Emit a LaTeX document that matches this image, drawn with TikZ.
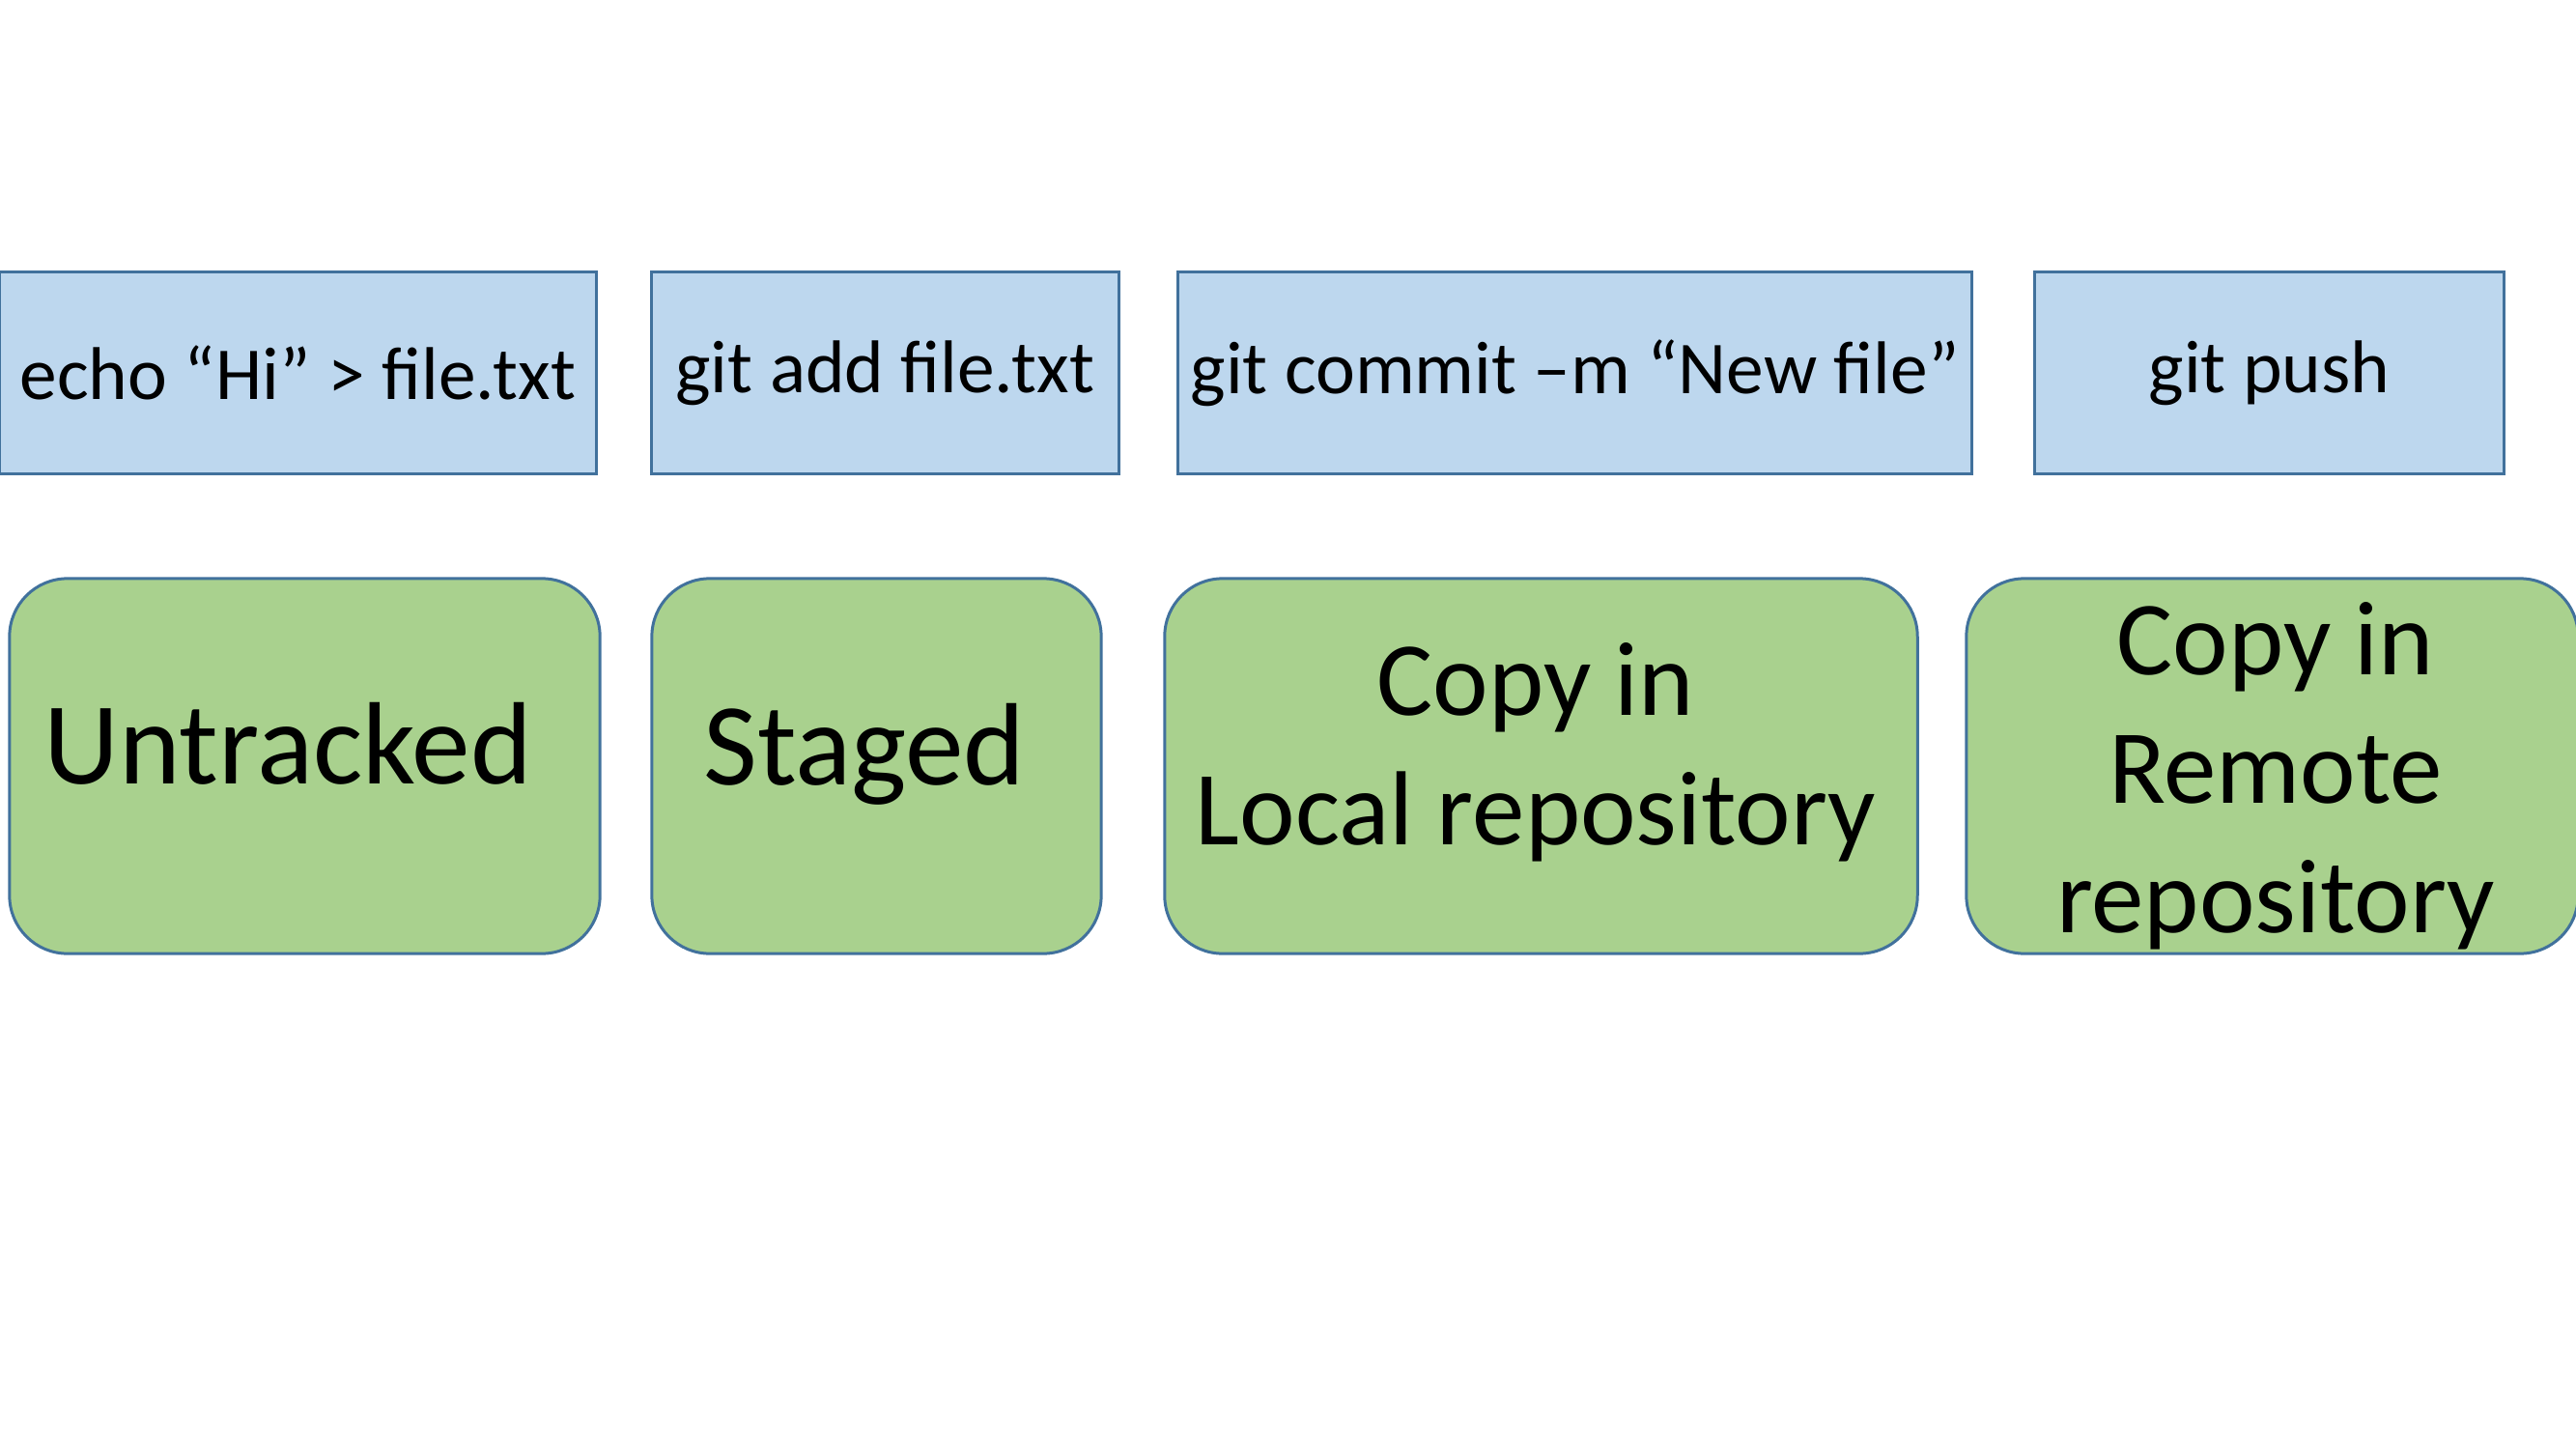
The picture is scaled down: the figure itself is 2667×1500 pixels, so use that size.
\documentclass[tikz,border=0pt]{standalone}
\usepackage{fontspec}
\setmainfont{Carlito}
\usetikzlibrary{positioning}
\definecolor{cmdblue}{RGB}{189,215,238}
\definecolor{stgreen}{RGB}{169,209,142}
\definecolor{edgeblue}{RGB}{65,113,156}

\begin{document}
\begin{tikzpicture}[x=0.01cm,y=-0.01cm,
  cmd/.style={draw=edgeblue,line width=0.85pt,fill=cmdblue,minimum height=2.08cm,inner sep=0pt,font=\fontsize{22}{26}\selectfont},
  state/.style={draw=edgeblue,line width=0.85pt,fill=stgreen,rounded corners=0.6cm,minimum height=3.88cm,inner sep=0pt},
  statetxt/.style={align=center,inner sep=0pt,font=\fontsize{31}{38}\selectfont},
  bigtxt/.style={statetxt,font=\fontsize{34.5}{40}\selectfont}]
\useasboundingbox (0,0) rectangle (2667,1500);
% commands
\node[cmd,minimum width=6.17cm] (echo) at (308.5,386) {echo “Hi” > file.txt};
\node[cmd,minimum width=4.83cm] (add) at (916.5,386) {git add file.txt};
\node[cmd,minimum width=8.21cm] (commit) at (1630.5,386) {git commit –m “New file”};
\node[cmd,minimum width=4.85cm] (push) at (2349.5,386) {git push};
% states
\node[state,minimum width=6.11cm] (untracked) at (315.5,793) {};
\node[state,minimum width=4.65cm] (staged) at (907.5,793) {};
\node[state,minimum width=7.79cm] (local) at (1595.5,793) {};
\node[state,minimum width=6.33cm] (remote) at (2352.5,793) {};
\node[bigtxt] (untrackedtxt) at (298,770) {Untracked};
\node[bigtxt] (stagedtxt) at (895,781) {Staged};
\node[statetxt] (localtxt) at (1590,779) {Copy in\\Local repository};
\node[statetxt] (remotetxt) at (2356,803) {Copy in\\Remote\\repository};
\end{tikzpicture}
\end{document}
